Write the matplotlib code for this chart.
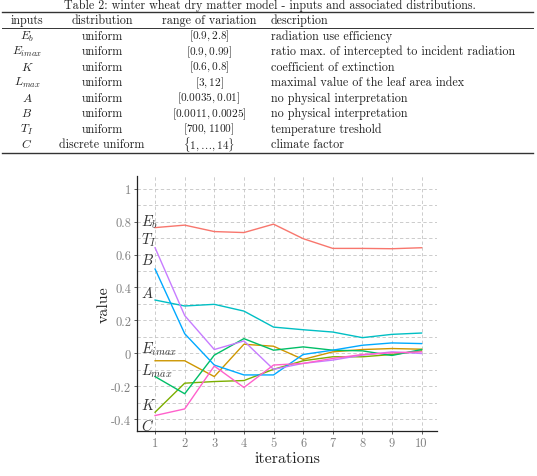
import matplotlib
matplotlib.use("Agg")
import matplotlib.pyplot as plt
from matplotlib.lines import Line2D
import numpy as np

plt.rcParams['font.family'] = 'cmr10'
plt.rcParams['mathtext.fontset'] = 'cm'
plt.rcParams['axes.unicode_minus'] = False

# table content
tab_title = "Table 2: winter wheat dry matter model - inputs and associated distributions."
tab_header = ["inputs", "distribution", "range of variation", "description"]
tab_inputs = [r"$E_b$", r"$E_{imax}$", r"$K$", r"$L_{max}$", r"$A$", r"$B$", r"$T_I$", r"$C$"]
tab_dist = ["uniform"] * 7 + ["discrete uniform"]
tab_range = [r"$[0.9, 2.8]$", r"$[0.9, 0.99]$", r"$[0.6, 0.8]$", r"$[3, 12]$",
             r"$[0.0035, 0.01]$", r"$[0.0011, 0.0025]$", r"$[700, 1100]$",
             r"$\{1, \ldots, 14\}$"]
tab_desc = ["radiation use efficiency",
            "ratio max. of intercepted to incident radiation",
            "coefficient of extinction",
            "maximal value of the leaf area index",
            "no physical interpretation",
            "no physical interpretation",
            "temperature treshold",
            "climate factor"]

# chart data
iterations = np.arange(1, 11)
series_names = ["Eb", "Eimax", "K", "Lmax", "A", "B", "TI", "C"]
Eb    = [0.763, 0.778, 0.739, 0.733, 0.784, 0.696, 0.637, 0.637, 0.635, 0.641]
Eimax = [-0.044, -0.044, -0.14, 0.056, 0.044, -0.036, 0.01, 0.024, 0.03, 0.026]
K     = [-0.356, -0.18, -0.17, -0.164, -0.096, -0.044, -0.02, -0.02, -0.006, 0.016]
Lmax  = [-0.14, -0.244, -0.01, 0.09, 0.02, 0.04, 0.02, 0.016, -0.012, 0.024]
A     = [0.324, 0.288, 0.298, 0.257, 0.16, 0.144, 0.13, 0.096, 0.116, 0.124]
B     = [0.512, 0.12, -0.07, -0.13, -0.13, -0.006, 0.02, 0.05, 0.064, 0.06]
TI    = [0.641, 0.23, 0.024, 0.076, -0.096, -0.06, -0.04, -0.01, 0.01, 0.0]
C     = [-0.376, -0.336, -0.076, -0.206, -0.07, -0.06, -0.03, -0.006, 0.004, 0.01]
series = [Eb, Eimax, K, Lmax, A, B, TI, C]
colors = ["#F8766D", "#CD9600", "#7CAE00", "#00BE67",
          "#00BFC4", "#00A9FF", "#C77CFF", "#FF61CC"]
label_text = [r"$E_b$", r"$E_{imax}$", r"$K$", r"$L_{max}$", r"$A$", r"$B$", r"$T_I$", r"$C$"]
label_y = [0.80, 0.034, -0.311, -0.10, 0.369, 0.567, 0.693, -0.433]
yticks = [-0.4, -0.2, 0, 0.2, 0.4, 0.6, 0.8, 1]
ytick_labels = ["-0.4", "-0.2", "0", "0.2", "0.4", "0.6", "0.8", "1"]

W, H = 537, 477
fig = plt.figure(figsize=(W / 100, H / 100), dpi=100)


def fx(px):
    return px / W


def fy(py):
    return 1 - py / H


# ---- table ----
tc = "#222222"
fs = 8.7
fig.text(fx(270), fy(5.5), tab_title, ha="center", va="center", fontsize=fs, color=tc)
fig.add_artist(Line2D([fx(2), fx(533)], [fy(13.3)] * 2, color="#333333", lw=1.0))
fig.add_artist(Line2D([fx(2), fx(533)], [fy(29.0)] * 2, color="#333333", lw=0.7))
fig.add_artist(Line2D([fx(2), fx(533)], [fy(153.5)] * 2, color="#333333", lw=1.0))
col_x = [27, 102, 209, 271]
col_ha = ["center", "center", "center", "left"]
col_fs = [fs, fs, 8.1, fs]
for j, h in enumerate(tab_header):
    fig.text(fx(col_x[j]), fy(20.8), h, ha=col_ha[j], va="center", fontsize=fs, color=tc)
for i in range(len(tab_inputs)):
    y = fy(36.5 + 15.5 * i)
    row = [tab_inputs[i], tab_dist[i], tab_range[i], tab_desc[i]]
    for j, t in enumerate(row):
        fig.text(fx(col_x[j]), y, t, ha=col_ha[j], va="center", fontsize=col_fs[j], color=tc)

# ---- chart ----
left, right, top, bottom = 137.3, 437.3, 177.3, 431.7
ax = fig.add_axes([fx(left), fy(bottom), (right - left) / W, (bottom - top) / H])

for s, col in zip(series, colors):
    ax.plot(iterations, s, color=col, lw=1.0)

for t, yv in zip(label_text, label_y):
    ax.text(0.51, yv, t, ha="left", va="center", fontsize=10.5, color="#333333")

ax.set_xlim(0.40, 10.53)
ax.set_ylim(-0.468, 1.074)
ax.set_xticks(iterations)
ax.set_xticklabels([str(i) for i in iterations])
ax.set_yticks(yticks)
ax.set_yticklabels(ytick_labels)
ax.set_yticks(np.arange(-0.3, 1.0, 0.2), minor=True)
ax.tick_params(axis="both", which="major", labelsize=9, labelcolor="#808080",
               color="#444444", length=2.5, width=0.6, pad=2)
ax.tick_params(axis="y", which="minor", length=0)
ax.grid(True, which="major", color="#c4c4c4", ls=(0, (4, 3)), lw=0.6)
ax.grid(True, which="minor", axis="y", color="#c4c4c4", ls=(0, (4, 3)), lw=0.6)
ax.set_axisbelow(True)
for sp in ["top", "right"]:
    ax.spines[sp].set_visible(False)
for sp in ["left", "bottom"]:
    ax.spines[sp].set_color("#222222")
    ax.spines[sp].set_linewidth(0.9)

ax.set_xlabel("iterations", fontsize=11.5, color="#222222")
ax.set_ylabel("value", fontsize=11.5, color="#222222")
ax.xaxis.set_label_coords(0.5, -0.08)
ax.yaxis.set_label_coords(-0.09, 0.5)

fig.savefig("out.png", dpi=100)
